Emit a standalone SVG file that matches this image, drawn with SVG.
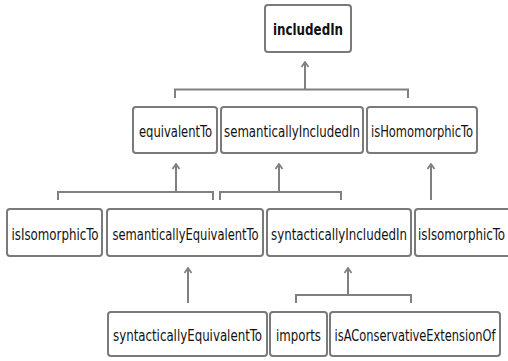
<svg xmlns="http://www.w3.org/2000/svg" width="508" height="361" viewBox="0 0 508 361">
<style>
.box{fill:#fff;stroke:#7a7a7a;stroke-width:2}
.t{font-family:"DejaVu Sans Condensed","Liberation Sans",sans-serif;font-size:16px;fill:#111;text-anchor:middle}
.b{font-weight:bold}
.c{fill:none;stroke:#808080;stroke-width:2}
</style>
<defs>
<marker id="ah" viewBox="0 0 10 10" refX="9" refY="5" markerWidth="10" markerHeight="10" markerUnits="userSpaceOnUse" orient="auto">
<path d="M4,1.5 L9,5 L4,8.5" fill="none" stroke="#808080" stroke-width="1.8"/>
</marker>
</defs>
<rect width="508" height="361" fill="#fff"/>
<g id="connectors">
<path class="c" d="M175,98 V89.5 H408 V98"/>
<path class="c" d="M305,89.5 V62" marker-end="url(#ah)"/>
<path class="c" d="M58,200 V192 H213 V200"/>
<path class="c" d="M176,192 V164" marker-end="url(#ah)"/>
<path class="c" d="M220,200 V192 H341 V200"/>
<path class="c" d="M279,192 V164" marker-end="url(#ah)"/>
<path class="c" d="M431,200 V164" marker-end="url(#ah)"/>
<path class="c" d="M188,303 V268" marker-end="url(#ah)"/>
<path class="c" d="M296,303 V295 H411 V303"/>
<path class="c" d="M348,295 V268" marker-end="url(#ah)"/>
</g>
<g id="includedIn"><rect class="box" x="265" y="5" width="86" height="47" rx="3"/><text class="t b" x="308" y="35" textLength="70" lengthAdjust="spacingAndGlyphs">includedIn</text></g>
<g id="equivalentTo"><rect class="box" x="133" y="107" width="84" height="46" rx="3"/><text class="t" x="175.5" y="137" textLength="73" lengthAdjust="spacingAndGlyphs">equivalentTo</text></g>
<g id="semanticallyIncludedIn"><rect class="box" x="221" y="107" width="142" height="46" rx="3"/><text class="t" x="292" y="137" textLength="136" lengthAdjust="spacingAndGlyphs">semanticallyIncludedIn</text></g>
<g id="isHomomorphicTo"><rect class="box" x="367" y="107" width="110" height="46" rx="3"/><text class="t" x="422" y="137" textLength="102" lengthAdjust="spacingAndGlyphs">isHomomorphicTo</text></g>
<g id="isIsomorphicTo1"><rect class="box" x="7" y="209" width="95" height="47" rx="3"/><text class="t" x="55" y="239.5" textLength="87" lengthAdjust="spacingAndGlyphs">isIsomorphicTo</text></g>
<g id="semanticallyEquivalentTo"><rect class="box" x="107" y="209" width="156" height="47" rx="3"/><text class="t" x="185.5" y="239.5" textLength="146" lengthAdjust="spacingAndGlyphs">semanticallyEquivalentTo</text></g>
<g id="syntacticallyIncludedIn"><rect class="box" x="267" y="209" width="144" height="47" rx="3"/><text class="t" x="339" y="239.5" textLength="136" lengthAdjust="spacingAndGlyphs">syntacticallyIncludedIn</text></g>
<g id="isIsomorphicTo2"><rect class="box" x="415" y="209" width="96" height="47" rx="3"/><text class="t" x="461.5" y="239.5" textLength="87" lengthAdjust="spacingAndGlyphs">isIsomorphicTo</text></g>
<g id="syntacticallyEquivalentTo"><rect class="box" x="108" y="312" width="159" height="44" rx="3"/><text class="t" x="187.5" y="341" textLength="149" lengthAdjust="spacingAndGlyphs">syntacticallyEquivalentTo</text></g>
<g id="imports"><rect class="box" x="270" y="312" width="57" height="44" rx="3"/><text class="t" x="298.5" y="341" textLength="45" lengthAdjust="spacingAndGlyphs">imports</text></g>
<g id="isAConservativeExtensionOf"><rect class="box" x="330" y="312" width="170" height="44" rx="3"/><text class="t" x="415" y="341" textLength="161" lengthAdjust="spacingAndGlyphs">isAConservativeExtensionOf</text></g>
</svg>
